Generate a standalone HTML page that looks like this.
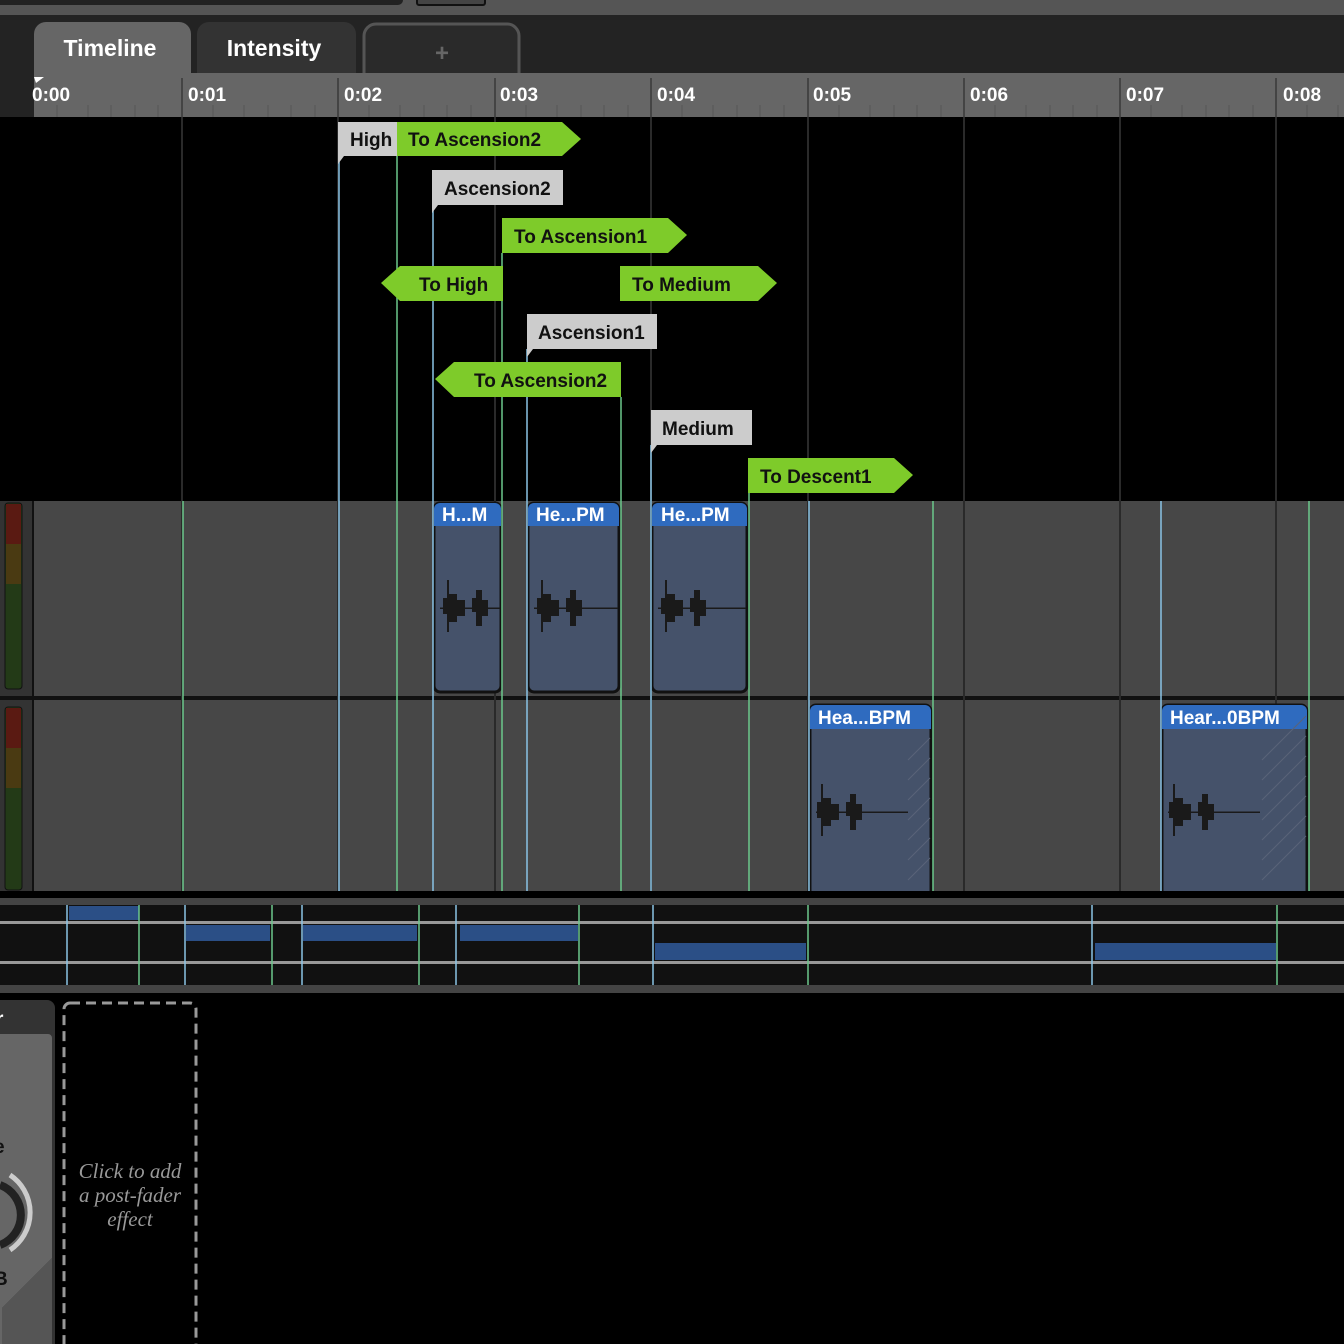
<!DOCTYPE html>
<html><head><style>
body{margin:0;background:#000;width:1344px;height:1344px;overflow:hidden;font-family:"Liberation Sans",sans-serif}
svg{display:block}
</style></head><body>
<svg width="1344" height="1344" xmlns="http://www.w3.org/2000/svg" font-family="Liberation Sans, sans-serif">
<rect width="1344" height="1344" fill="#000"/>
<rect x="0" y="0" width="1344" height="15" fill="#555"/>
<rect x="-10" y="-10" width="413" height="15" rx="5" fill="#222"/>
<rect x="417" y="-5" width="68" height="10" rx="2" fill="#444" stroke="#111" stroke-width="2"/>
<rect x="0" y="15" width="1344" height="102" fill="#232323"/>
<path d="M34 73V34a12 12 0 0 1 12-12h133a12 12 0 0 1 12 12v39z" fill="#666"/>
<path d="M197 73V34a12 12 0 0 1 12-12h135a12 12 0 0 1 12 12v39z" fill="#333"/>
<path d="M364 73V36a12 12 0 0 1 12-12h131a12 12 0 0 1 12 12v37" fill="#2a2a2a" stroke="#555" stroke-width="3"/>
<text x="110" y="56" fill="#fff" text-anchor="middle" style="font-size:23px;font-weight:bold">Timeline</text>
<text x="274" y="56" fill="#fff" text-anchor="middle" style="font-size:23px;font-weight:bold">Intensity</text>
<text x="442" y="61" fill="#666" text-anchor="middle" style="font-size:24px;font-weight:bold">+</text>
<rect x="34" y="73" width="1310" height="44" fill="#666"/>
<g fill="#fff" style="font-size:19px;font-weight:bold">
<text x="32" y="101">0:00</text><text x="188" y="101">0:01</text><text x="344" y="101">0:02</text><text x="500" y="101">0:03</text><text x="657" y="101">0:04</text><text x="813" y="101">0:05</text><text x="970" y="101">0:06</text><text x="1126" y="101">0:07</text><text x="1283" y="101">0:08</text>
</g>
<g stroke="#444" stroke-width="2">
<line x1="182" y1="78" x2="182" y2="117"/><line x1="338" y1="78" x2="338" y2="117"/><line x1="495" y1="78" x2="495" y2="117"/><line x1="651" y1="78" x2="651" y2="117"/><line x1="808" y1="78" x2="808" y2="117"/><line x1="964" y1="78" x2="964" y2="117"/><line x1="1120" y1="78" x2="1120" y2="117"/><line x1="1276" y1="78" x2="1276" y2="117"/>
</g>
<g stroke="#555" stroke-width="1">
<path d="M57 105v12M88 105v12M111 105v12M135 105v12M158 105v12M213 105v12M244 105v12M268 105v12M291 105v12M315 105v12M369 105v12M400 105v12M424 105v12M447 105v12M471 105v12M526 105v12M557 105v12M581 105v12M604 105v12M628 105v12M682 105v12M713 105v12M737 105v12M760 105v12M784 105v12M839 105v12M870 105v12M894 105v12M917 105v12M941 105v12M995 105v12M1026 105v12M1050 105v12M1073 105v12M1097 105v12M1151 105v12M1182 105v12M1206 105v12M1229 105v12M1253 105v12M1307 105v12M1338 105v12"/>
</g>
<rect x="0" y="117" width="1344" height="384" fill="#000"/>
<path d="M34 77h10l-8 6z" fill="#fff"/>
<!-- tracks -->
<rect x="0" y="501" width="1344" height="195" fill="#474747"/>
<rect x="0" y="700" width="1344" height="191" fill="#474747"/>
<rect x="0" y="501" width="33" height="390" fill="#333"/>
<line x1="33" y1="501" x2="33" y2="891" stroke="#111" stroke-width="2"/>
<rect x="0" y="696" width="1344" height="4" fill="#111"/>
<rect x="5" y="503" width="17" height="186" rx="3" fill="#233a17" stroke="#111"/>
<rect x="6" y="504" width="15" height="40" fill="#5a1a12"/><rect x="6" y="544" width="15" height="40" fill="#4a3a12"/>
<rect x="5" y="707" width="17" height="183" rx="3" fill="#233a17" stroke="#111"/>
<rect x="6" y="708" width="15" height="40" fill="#5a1a12"/><rect x="6" y="748" width="15" height="40" fill="#4a3a12"/>
<g stroke="#2a2a2a" stroke-width="2">
<path d="M182 117v774M338 117v774M495 117v774M651 117v774M808 117v774M964 117v774M1120 117v774M1276 117v774"/>
</g>
<!-- clips -->
<g>
<rect x="434" y="503" width="67" height="189" rx="6" fill="#45526a" stroke="#111" stroke-width="3"/>
<path d="M434 526v-17a6 6 0 0 1 6-6h55a6 6 0 0 1 6 6v17z" fill="#2f6bbf"/>
<rect x="528" y="503" width="91" height="189" rx="6" fill="#45526a" stroke="#111" stroke-width="3"/>
<path d="M528 526v-17a6 6 0 0 1 6-6h79a6 6 0 0 1 6 6v17z" fill="#2f6bbf"/>
<rect x="652" y="503" width="95" height="189" rx="6" fill="#45526a" stroke="#111" stroke-width="3"/>
<path d="M652 526v-17a6 6 0 0 1 6-6h83a6 6 0 0 1 6 6v17z" fill="#2f6bbf"/>
<path d="M810 891V711a6 6 0 0 1 6-6h109a6 6 0 0 1 6 6v180" fill="#45526a" stroke="#111" stroke-width="3"/>
<path d="M810 729v-18a6 6 0 0 1 6-6h109a6 6 0 0 1 6 6v18z" fill="#2f6bbf"/>
<path d="M1162 891V711a6 6 0 0 1 6-6h133a6 6 0 0 1 6 6v180" fill="#45526a" stroke="#111" stroke-width="3"/>
<path d="M1162 729v-18a6 6 0 0 1 6-6h133a6 6 0 0 1 6 6v18z" fill="#2f6bbf"/>
</g>
<g fill="#fff" style="font-size:19px;font-weight:bold">
<text x="442" y="521">H...M</text><text x="536" y="521">He...PM</text><text x="661" y="521">He...PM</text>
<text x="818" y="724">Hea...BPM</text><text x="1170" y="724">Hear...0BPM</text>
</g>
<g fill="#1a1a1a" stroke="none">
<path d="M440 607.5h60v1.5h-60zM534 607.5h84v1.5h-84zM658 607.5h88v1.5h-88zM816 811.5h92v1.5h-92zM1168 811.5h92v1.5h-92z"/>
<path d="M443 598h4v-18h2v52h-2v-18h-4zM449 594h8v28h-8zM457 600h8v16h-8zM472 598h4v14h-4zM476 590h6v36h-6zM482 600h6v16h-6z"/>
<path d="M537 598h4v-18h2v52h-2v-18h-4zM543 594h8v28h-8zM551 600h8v16h-8zM566 598h4v14h-4zM570 590h6v36h-6zM576 600h6v16h-6z"/>
<path d="M661 598h4v-18h2v52h-2v-18h-4zM667 594h8v28h-8zM675 600h8v16h-8zM690 598h4v14h-4zM694 590h6v36h-6zM700 600h6v16h-6z"/>
<path d="M817 802h4v-18h2v52h-2v-18h-4zM823 798h8v28h-8zM831 804h8v16h-8zM846 802h4v14h-4zM850 794h6v36h-6zM856 804h6v16h-6z"/>
<path d="M1169 802h4v-18h2v52h-2v-18h-4zM1175 798h8v28h-8zM1183 804h8v16h-8zM1198 802h4v14h-4zM1202 794h6v36h-6zM1208 804h6v16h-6z"/>
</g>
<g stroke="#5a6478" stroke-width="1">
<path d="M908 760l22-22M908 780l22-22M908 800l22-22M908 820l22-22M908 840l22-22M908 860l22-22M908 880l22-22M1262 760l44-44M1262 780l44-44M1262 800l44-44M1262 820l44-44M1262 840l44-44M1262 860l44-44M1262 880l44-44"/>
</g>
<g stroke="#8ac4e6" stroke-width="1.5">
<path d="M339 156v735M433 205v686M527 349v542M651 445v446M809 501v390M1161 501v390"/>
</g>
<g stroke="#6cc88c" stroke-width="1.5">
<path d="M183 501v390M397 156v735M502 253v638M621 397v494M749 493v398M933 501v390M1309 501v390"/>
</g>
<!-- markers -->
<g style="font-size:19px;font-weight:bold" fill="#111">
<path d="M338 122h59v34h-53l-6 8z" fill="#ccc"/><text x="350" y="146">High</text>
<path d="M397 122h165l19 17-19 17h-165z" fill="#7ecb2a"/><text x="408" y="146">To Ascension2</text>
<path d="M432 170h131v35h-125l-6 8z" fill="#ccc"/><text x="444" y="195">Ascension2</text>
<path d="M502 218h166l19 17-19 18h-166z" fill="#7ecb2a"/><text x="514" y="243">To Ascension1</text>
<path d="M503 266h-103l-19 17 19 18h103z" fill="#7ecb2a"/><text x="419" y="291">To High</text>
<path d="M620 266h138l19 17-19 18h-138z" fill="#7ecb2a"/><text x="632" y="291">To Medium</text>
<path d="M527 314h130v35h-124l-6 8z" fill="#ccc"/><text x="538" y="339">Ascension1</text>
<path d="M621 362h-167l-19 17 19 18h167z" fill="#7ecb2a"/><text x="474" y="387">To Ascension2</text>
<path d="M651 410h101v35h-95l-6 8z" fill="#ccc"/><text x="662" y="435">Medium</text>
<path d="M748 458h146l19 17-19 18h-146z" fill="#7ecb2a"/><text x="760" y="483">To Descent1</text>
</g>
<!-- lane -->
<rect x="0" y="898" width="1344" height="7" fill="#444"/>
<rect x="0" y="905" width="1344" height="80" fill="#111"/>
<rect x="0" y="921" width="1344" height="3" fill="#999"/>
<rect x="0" y="961" width="1344" height="3" fill="#999"/>
<rect x="0" y="985" width="1344" height="8" fill="#444"/>
<g fill="#2b4f86">
<rect x="69" y="906" width="70" height="14"/>
<rect x="186" y="925" width="84" height="16"/><rect x="303" y="925" width="114" height="16"/><rect x="460" y="925" width="118" height="16"/>
<rect x="655" y="943" width="151" height="17"/><rect x="1095" y="943" width="181" height="17"/>
</g>
<g stroke="#8ac4e6" stroke-width="1.5"><path d="M67 905v80M185 905v80M302 905v80M456 905v80M653 905v80M1092 905v80"/></g>
<g stroke="#6cc88c" stroke-width="1.5"><path d="M139 905v80M272 905v80M419 905v80M579 905v80M808 905v80M1277 905v80"/></g>
<!-- bottom -->
<rect x="-10" y="1000" width="65" height="360" rx="8" fill="#333"/>
<path d="M-10 1034h58a4 4 0 0 1 4 4v220l-50 50v40h-12z" fill="#666"/>
<path d="M2 1308l50-50v90h-50z" fill="#555"/>
<text x="-4" y="1025" fill="#fff" style="font-size:19px;font-weight:bold">r</text>
<text x="-6" y="1153" fill="#111" style="font-size:19px;font-weight:bold">e</text>
<text x="-6" y="1285" fill="#111" style="font-size:19px;font-weight:bold">B</text>
<path d="M10 1175a45 45 0 0 1 0 75" fill="none" stroke="#ccc" stroke-width="5"/>
<path d="M0 1185a32 32 0 0 1 0 60" fill="none" stroke="#222" stroke-width="8"/>
<rect x="64" y="1003" width="132" height="350" rx="6" fill="none" stroke="#999" stroke-width="3" stroke-dasharray="10 6"/>
<g fill="#999" font-family="Liberation Serif, serif" font-style="italic" font-size="21" text-anchor="middle">
<text x="130" y="1178">Click to add</text><text x="130" y="1202">a post-fader</text><text x="130" y="1226">effect</text>
</g>
</svg>
</body></html>
